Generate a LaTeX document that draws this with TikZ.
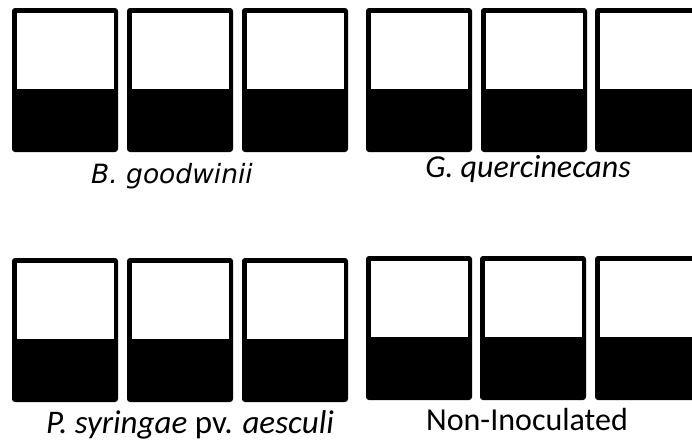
\documentclass[tikz,border=0pt]{standalone}
\usepackage{fontspec}
\setmainfont{Carlito}
\newfontfamily\obliquesans{DejaVu Sans}
\tikzset{
  tubeframe/.style={fill=black, rounded corners=3pt},
  tubetop/.style={fill=white},
  caption/.style={anchor=base, inner sep=0pt, font=\fontsize{32}{38}\selectfont},
}
% one sample tube: black rounded frame, white upper part
\newcommand{\sampletube}[2]{%
  \fill[tubeframe] (#1,#2) rectangle ++(106,144);
  \fill[tubetop] (#1+4.5,#2+4.5) rectangle (#1+101.5,#2+80.5);
}
\begin{document}
\begin{tikzpicture}[x=1pt,y=-1pt]
  \useasboundingbox (0,0) rectangle (692,440);
  \clip (0,0) rectangle (692,440);
  % upper left group
  \sampletube{12}{8}\sampletube{127}{8}\sampletube{242}{8}
  % upper right group
  \sampletube{366}{8}\sampletube{481}{8}\sampletube{595}{8}
  % lower left group
  \sampletube{12}{258}\sampletube{127}{258}\sampletube{242}{258}
  % lower right group
  \sampletube{366}{256}\sampletube{480}{256}\sampletube{595}{256}
  % captions
  \node[caption, font=\obliquesans\fontsize{26.5}{30}\selectfont] (bg) at (172,183) {\itshape B. goodwinii};
  \node[caption] (gq) at (528,177) {\itshape G. quercinecans};
  \node[caption, font=\fontsize{33}{38}\selectfont] (ps) at (190,433) {\textit{P. syringae} pv. \textit{aesculi}};
  \node[caption] (ni) at (527,430) {Non-Inoculated};
\end{tikzpicture}
\end{document}
